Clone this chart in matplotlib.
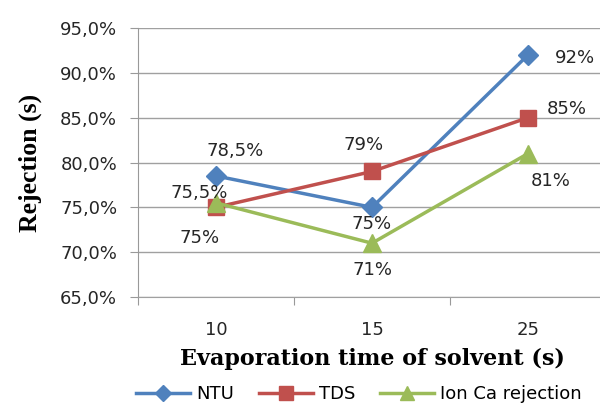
import matplotlib
matplotlib.use('Agg')
import matplotlib.pyplot as plt
from matplotlib.ticker import FuncFormatter

times = ['10', '15', '25']
ntu = [78.5, 75, 92]
tds = [75, 79, 85]
ion_ca = [75.5, 71, 81]

ntu_lbl = ['78,5%', '75%', '92%']
tds_lbl = ['75%', '79%', '85%']
ion_lbl = ['75,5%', '71%', '81%']

fig = plt.figure(figsize=(6, 4.03), dpi=100)
ax = fig.add_axes([0.23, 0.263, 0.78, 0.6675])

x = range(len(times))
ax.plot(x, ntu, color='#4F81BD', marker='D', ms=10, lw=2.5, label='NTU', zorder=3)
ax.plot(x, tds, color='#C0504D', marker='s', ms=12, lw=2.5, label='TDS', zorder=3)
ax.plot(x, ion_ca, color='#9BBB59', marker='^', ms=13, lw=2.5, label='Ion Ca rejection', zorder=3)

# label offsets in points (dx, dy)
ntu_off = [(14, 18), (0, -12), (34, -2)]
tds_off = [(-12, -22), (-6, 19), (28, 6)]
ion_off = [(-12, 7), (0, -19), (16, -20)]
for lbls, vals, offs in [(ntu_lbl, ntu, ntu_off), (tds_lbl, tds, tds_off), (ion_lbl, ion_ca, ion_off)]:
    for i in x:
        ax.annotate(lbls[i], (i, vals[i]), xytext=offs[i], textcoords='offset points',
                    ha='center', va='center', fontsize=13, color='#262626')

ax.set_xlim(-0.5, 2.5)
ax.set_ylim(65, 95)
ax.set_yticks(range(65, 96, 5))
ax.yaxis.set_major_formatter(FuncFormatter(lambda v, p: ('%.1f%%' % v).replace('.', ',')))
ax.set_xticks([-0.5, 0.5, 1.5])
ax.set_xticks(list(x), minor=True)
ax.set_xticklabels([])
ax.set_xticklabels(times, minor=True)
ax.tick_params(axis='x', which='major', length=6, color='#999999', direction='out')
ax.tick_params(axis='x', which='minor', length=0, pad=17, labelsize=13, labelcolor='#262626')
ax.tick_params(axis='y', length=6, color='#999999', labelsize=13, pad=9, labelcolor='#262626')
ax.grid(axis='y', color='#A0A0A0', lw=1)
ax.set_axisbelow(True)
for s in ['top', 'right']:
    ax.spines[s].set_visible(False)
ax.spines['left'].set_color('#999999')
ax.spines['bottom'].set_color('#A0A0A0')

ax.set_ylabel('Rejection (s)', family='Liberation Serif', fontweight='bold', fontsize=18.5, labelpad=13)
ax.set_xlabel('Evaporation time of solvent (s)', family='DejaVu Serif', fontweight='bold',
              fontsize=16, labelpad=7)

fig.legend(loc='lower center', bbox_to_anchor=(0.598, -0.04), ncol=3, frameon=False,
           fontsize=13, handlelength=3, columnspacing=1.4, handletextpad=0.3, markerscale=0.8)

fig.savefig('out.png', dpi=100)
